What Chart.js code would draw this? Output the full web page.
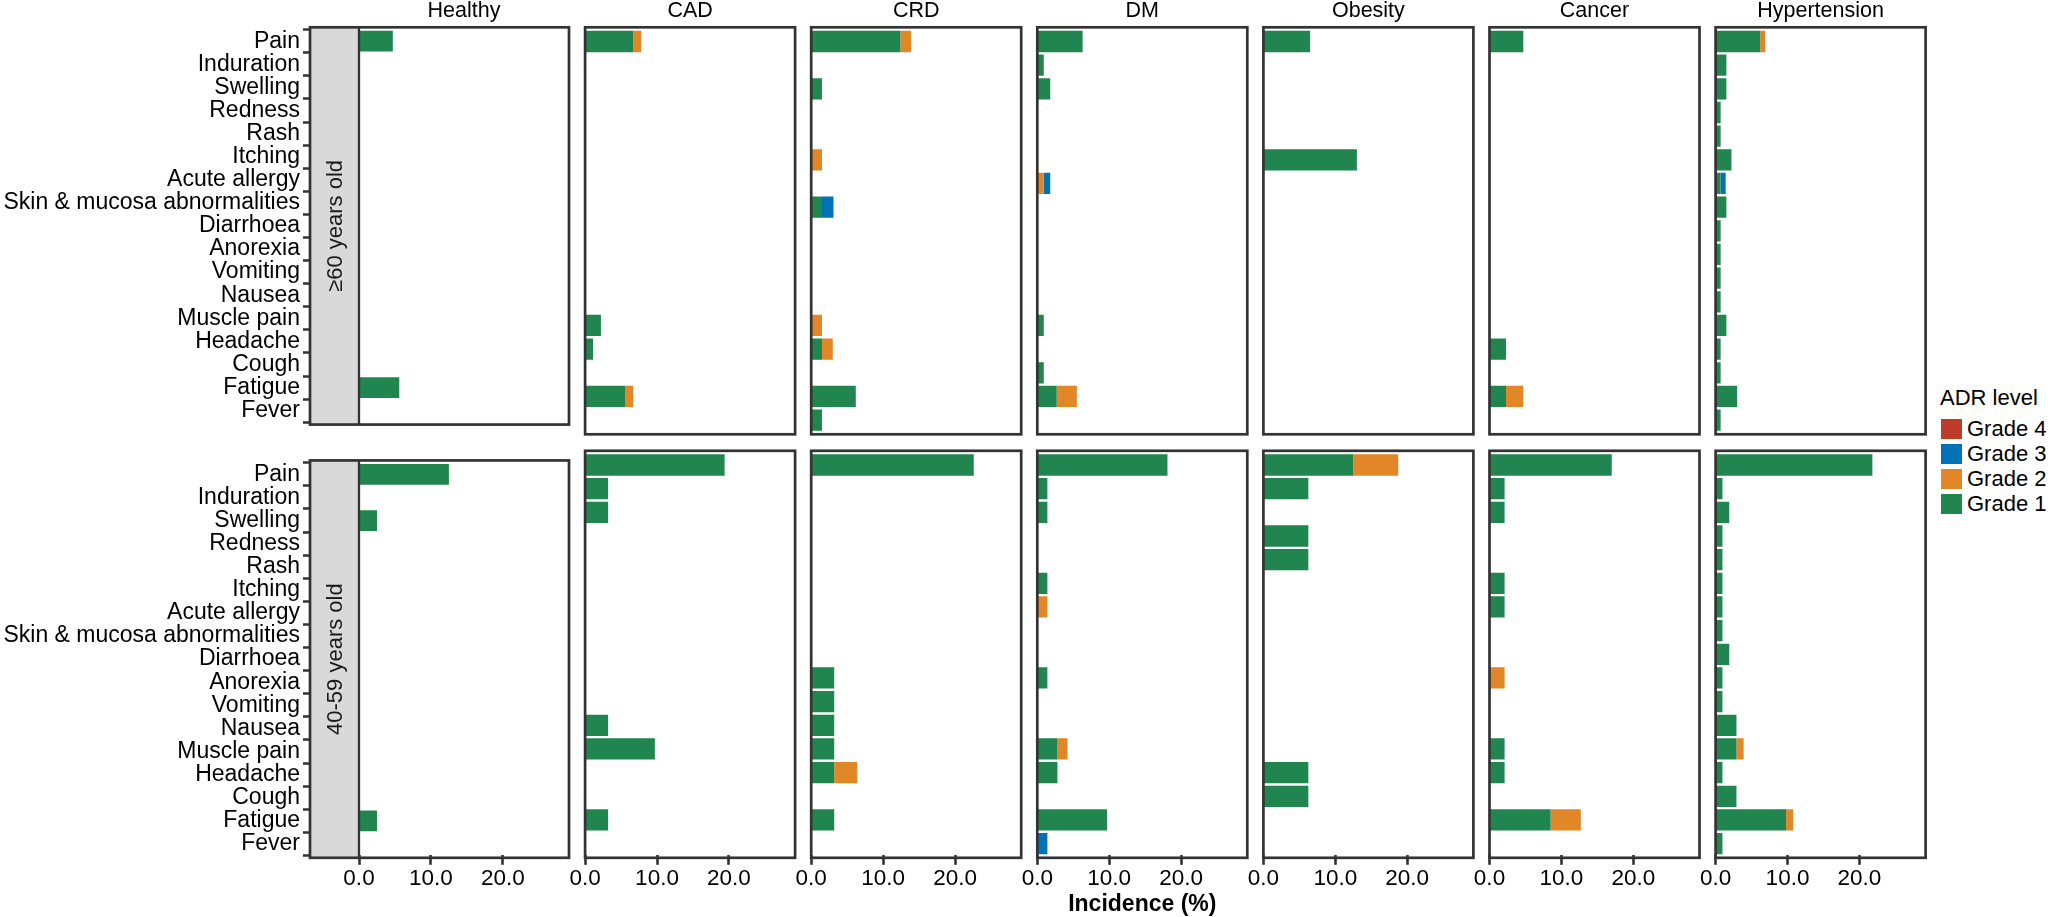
<!DOCTYPE html>
<html><head><meta charset="utf-8">
<script src="https://cdn.jsdelivr.net/npm/chart.js@4.4.1/dist/chart.umd.min.js"></script>
<style>
html,body{margin:0;padding:0;background:#fff;}
body{width:2050px;height:917px;position:relative;overflow:hidden;font-family:"Liberation Sans",Arial,Helvetica,sans-serif;}
canvas{position:absolute;}
.lg{position:absolute;font-size:22px;line-height:22px;color:#000;white-space:nowrap;}
.key{position:absolute;width:21px;height:20px;}
</style></head><body>
<script>
// ---------------- data ----------------
const categories = ['Pain','Induration','Swelling','Redness','Rash','Itching','Acute allergy','Skin & mucosa abnormalities','Diarrhoea','Anorexia','Vomiting','Nausea','Muscle pain','Headache','Cough','Fatigue','Fever'];
const diseases = ['Healthy','CAD','CRD','DM','Obesity','Cancer','Hypertension'];
const ageGroups = ['≥60 years old','40-59 years old'];
const grades = ['Grade 1','Grade 2','Grade 3','Grade 4'];
const gradeColors = ['#20854E','#E18727','#0072B5','#BC3C29'];
const xTickValues = [0, 10, 20];
const xTickLabels = ['0.0', '10.0', '20.0'];
const xAxisTitle = 'Incidence (%)';
const legendTitle = 'ADR level';

// one row per disease (Healthy, CAD, CRD, DM, Obesity, Cancer, Hypertension), one column per category
const grade1_60 = [
  [4.7,0,0,0,0,0,0,0,0,0,0,0,0,0,0,5.6,0],
  [6.7,0,0,0,0,0,0,0,0,0,0,0,2.2,1.1,0,5.6,0],
  [12.4,0,1.5,0,0,0,0,1.5,0,0,0,0,0,1.5,0,6.2,1.5],
  [6.3,0.9,1.8,0,0,0,0,0,0,0,0,0,0.9,0,0.9,2.7,0],
  [6.5,0,0,0,0,13.0,0,0,0,0,0,0,0,0,0,0,0],
  [4.7,0,0,0,0,0,0,0,0,0,0,0,0,2.3,0,2.3,0],
  [6.2,1.5,1.5,0.7,0.7,2.2,0.7,1.5,0.7,0.7,0.7,0.7,1.5,0.7,0.7,3.0,0.7]
];
const grade2_60 = [
  [0,0,0,0,0,0,0,0,0,0,0,0,0,0,0,0,0],
  [1.1,0,0,0,0,0,0,0,0,0,0,0,0,0,0,1.1,0],
  [1.5,0,0,0,0,1.5,0,0,0,0,0,0,1.5,1.5,0,0,0],
  [0,0,0,0,0,0,0.9,0,0,0,0,0,0,0,0,2.8,0],
  [0,0,0,0,0,0,0,0,0,0,0,0,0,0,0,0,0],
  [0,0,0,0,0,0,0,0,0,0,0,0,0,0,0,2.4,0],
  [0.7,0,0,0,0,0,0,0,0,0,0,0,0,0,0,0,0]
];
const grade3_60 = [
  [0,0,0,0,0,0,0,0,0,0,0,0,0,0,0,0,0],
  [0,0,0,0,0,0,0,0,0,0,0,0,0,0,0,0,0],
  [0,0,0,0,0,0,0,1.6,0,0,0,0,0,0,0,0,0],
  [0,0,0,0,0,0,0.9,0,0,0,0,0,0,0,0,0,0],
  [0,0,0,0,0,0,0,0,0,0,0,0,0,0,0,0,0],
  [0,0,0,0,0,0,0,0,0,0,0,0,0,0,0,0,0],
  [0,0,0,0,0,0,0.7,0,0,0,0,0,0,0,0,0,0]
];
const grade1_4059 = [
  [12.5,0,2.5,0,0,0,0,0,0,0,0,0,0,0,0,2.5,0],
  [19.4,3.2,3.2,0,0,0,0,0,0,0,0,3.2,9.7,0,0,3.2,0],
  [22.6,0,0,0,0,0,0,0,0,3.2,3.2,3.2,3.2,3.2,0,3.2,0],
  [18.1,1.4,1.4,0,0,1.4,0,0,0,1.4,0,0,2.8,2.8,0,9.7,0],
  [12.5,6.25,0,6.25,6.25,0,0,0,0,0,0,0,0,6.25,6.25,0,0],
  [17.0,2.1,2.1,0,0,2.1,2.1,0,0,0,0,0,2.1,2.1,0,8.5,0],
  [21.8,0.95,1.9,0.95,0.95,0.95,0.95,0.95,1.9,0.95,0.95,2.9,2.9,0.95,2.9,9.8,0.95]
];
const grade2_4059 = [
  [0,0,0,0,0,0,0,0,0,0,0,0,0,0,0,0,0],
  [0,0,0,0,0,0,0,0,0,0,0,0,0,0,0,0,0],
  [0,0,0,0,0,0,0,0,0,0,0,0,0,3.2,0,0,0],
  [0,0,0,0,0,0,1.4,0,0,0,0,0,1.4,0,0,0,0],
  [6.25,0,0,0,0,0,0,0,0,0,0,0,0,0,0,0,0],
  [0,0,0,0,0,0,0,0,0,2.1,0,0,0,0,0,4.2,0],
  [0,0,0,0,0,0,0,0,0,0,0,0,1.0,0,0,1.0,0]
];
const grade3_4059 = [
  [0,0,0,0,0,0,0,0,0,0,0,0,0,0,0,0,0],
  [0,0,0,0,0,0,0,0,0,0,0,0,0,0,0,0,0],
  [0,0,0,0,0,0,0,0,0,0,0,0,0,0,0,0,0],
  [0,0,0,0,0,0,0,0,0,0,0,0,0,0,0,0,1.4],
  [0,0,0,0,0,0,0,0,0,0,0,0,0,0,0,0,0],
  [0,0,0,0,0,0,0,0,0,0,0,0,0,0,0,0,0],
  [0,0,0,0,0,0,0,0,0,0,0,0,0,0,0,0,0]
];
// no Grade 4 events in any panel
const grade4_all = [0,0,0,0,0,0,0,0,0,0,0,0,0,0,0,0,0];

// ---------------- layout ----------------
const FONT = '"Liberation Sans", Arial, Helvetica, sans-serif';
const P0 = 359, STEP = 226.1, PW = 210, PH = 407;
const ROW_TOP = [27.3, 450.8];
const STRIP_W = 49;
const INSET = PH / 17.2 * 0.1;
const XMAX = 29.2;
const B = 5, BL = 20;
const TITLE_SIZE = 21.5;

Chart.defaults.font.family = FONT;

const seriesByRow = [
  [grade1_60, grade2_60, grade3_60, null],
  [grade1_4059, grade2_4059, grade3_4059, null]
];

function makePanel(r, c) {
  const pl = P0 + c * STEP, pr = pl + PW, pt = ROW_TOP[r], pb = pt + PH;
  const padL = c === 0 ? 0 : (r === 1 ? BL : B);
  const cl = Math.round(c === 0 ? 0 : pl - padL);
  const cr = Math.round(pr + B);
  const ct = r === 0 ? 0 : Math.round(pt - B);
  const cb = r === 1 ? 917 : Math.round(pb + B);
  const cv = document.createElement('canvas');
  cv.width = cr - cl; cv.height = cb - ct;
  cv.style.left = cl + 'px'; cv.style.top = ct + 'px';
  cv.style.width = (cr - cl) + 'px'; cv.style.height = (cb - ct) + 'px';
  document.body.appendChild(cv);

  const yAxisW = pl - cl;
  const padTop = r === 0 ? 0 : (pt - ct) + INSET;
  const padBottom = r === 1 ? 0 : (cb - pb) + INSET;
  const padLeft = c === 0 ? 0 : pl - cl;
  const padRight = cr - pr;
  const axH = cb - ct - (pb - ct - INSET);

  const datasets = grades.map((g, k) => ({
    label: g,
    data: seriesByRow[r][k] ? seriesByRow[r][k][c] : grade4_all,
    backgroundColor: gradeColors[k],
    borderWidth: 0,
    barPercentage: 0.9,
    categoryPercentage: 1.0,
    stack: 's'
  }));

  const frame = {
    id: 'frame',
    afterDraw(chart) {
      const ctx = chart.ctx, ca = chart.chartArea;
      const top = ca.top - INSET, bot = ca.bottom + INSET;
      let left = ca.left;
      ctx.save();
      if (c === 0) {
        left = ca.left - STRIP_W;
        ctx.fillStyle = '#d9d9d9';
        ctx.fillRect(left, top, STRIP_W, bot - top);
        ctx.strokeStyle = '#333333';
        ctx.lineWidth = 2.3;
        ctx.beginPath(); ctx.moveTo(ca.left, top); ctx.lineTo(ca.left, bot); ctx.stroke();
        ctx.save();
        ctx.translate(left + STRIP_W / 2, (top + bot) / 2);
        ctx.rotate(-Math.PI / 2);
        ctx.fillStyle = '#1a1a1a';
        ctx.font = '22px ' + FONT;
        ctx.textAlign = 'center';
        ctx.textBaseline = 'middle';
        ctx.fillText(ageGroups[r], 0, 1);
        ctx.restore();
      }
      ctx.strokeStyle = '#333333';
      ctx.lineWidth = 2.7;
      ctx.strokeRect(left, top, ca.right - left, bot - top);
      ctx.restore();
    }
  };

  const yScale = {
    type: 'category', stacked: true, offset: true,
    display: c === 0,
    grid: { display: true, drawOnChartArea: false, drawTicks: true, tickLength: STRIP_W + 7, tickWidth: 2.6, tickColor: '#333333' },
    border: { display: false },
    ticks: { autoSkip: false, padding: 3, color: '#000', font: { size: 23, family: FONT } }
  };
  if (c === 0) yScale.afterFit = s => { s.width = yAxisW; };

  const xScale = {
    type: 'linear', stacked: true, min: 0, max: XMAX,
    display: r === 1,
    afterBuildTicks: s => { s.ticks = xTickValues.map(v => ({ value: v })); },
    grid: { display: true, drawOnChartArea: false, drawTicks: true, tickLength: 7 + INSET, tickWidth: 2.6, tickColor: '#333333' },
    border: { display: false },
    ticks: {
      autoSkip: false, maxRotation: 0, padding: 0, color: '#000',
      font: { size: 22.5, family: FONT },
      callback: v => xTickLabels[xTickValues.indexOf(v)]
    },
    title: {
      display: r === 1 && c === 3,
      text: xAxisTitle,
      color: '#000',
      font: { size: 23, weight: 'bold', family: FONT, lineHeight: 1 },
      padding: { top: 0, bottom: 1 }
    }
  };
  if (r === 1) xScale.afterFit = s => { s.height = axH; };

  new Chart(cv, {
    type: 'bar',
    data: { labels: categories, datasets },
    options: {
      indexAxis: 'y',
      responsive: false,
      animation: false,
      devicePixelRatio: 1,
      events: [],
      layout: { autoPadding: false, padding: { left: padLeft, right: padRight, top: padTop, bottom: padBottom } },
      plugins: {
        legend: { display: false },
        tooltip: { enabled: false },
        title: {
          display: r === 0,
          text: diseases[c],
          color: '#000',
          fullSize: false,
          font: { size: TITLE_SIZE, weight: 'normal', family: FONT, lineHeight: 1 },
          padding: { top: 0, bottom: ROW_TOP[0] + INSET - TITLE_SIZE }
        }
      },
      scales: { x: xScale, y: yScale }
    },
    plugins: [frame]
  });
}

for (let r = 0; r < 2; r++) for (let c = 0; c < diseases.length; c++) makePanel(r, c);

// ---------------- legend (HTML) ----------------
(function () {
  const lt = document.createElement('div');
  lt.className = 'lg';
  lt.style.left = '1940px'; lt.style.top = '387px';
  lt.textContent = legendTitle;
  document.body.appendChild(lt);
  const order = [3, 2, 1, 0];
  order.forEach((k, i) => {
    const y = 419 + i * 25;
    const key = document.createElement('div');
    key.className = 'key';
    key.style.left = '1941px'; key.style.top = y + 'px';
    key.style.background = gradeColors[k];
    document.body.appendChild(key);
    const t = document.createElement('div');
    t.className = 'lg';
    t.style.left = '1967px'; t.style.top = (y - 1) + 'px';
    t.textContent = grades[k];
    document.body.appendChild(t);
  });
})();
</script>
</body></html>
